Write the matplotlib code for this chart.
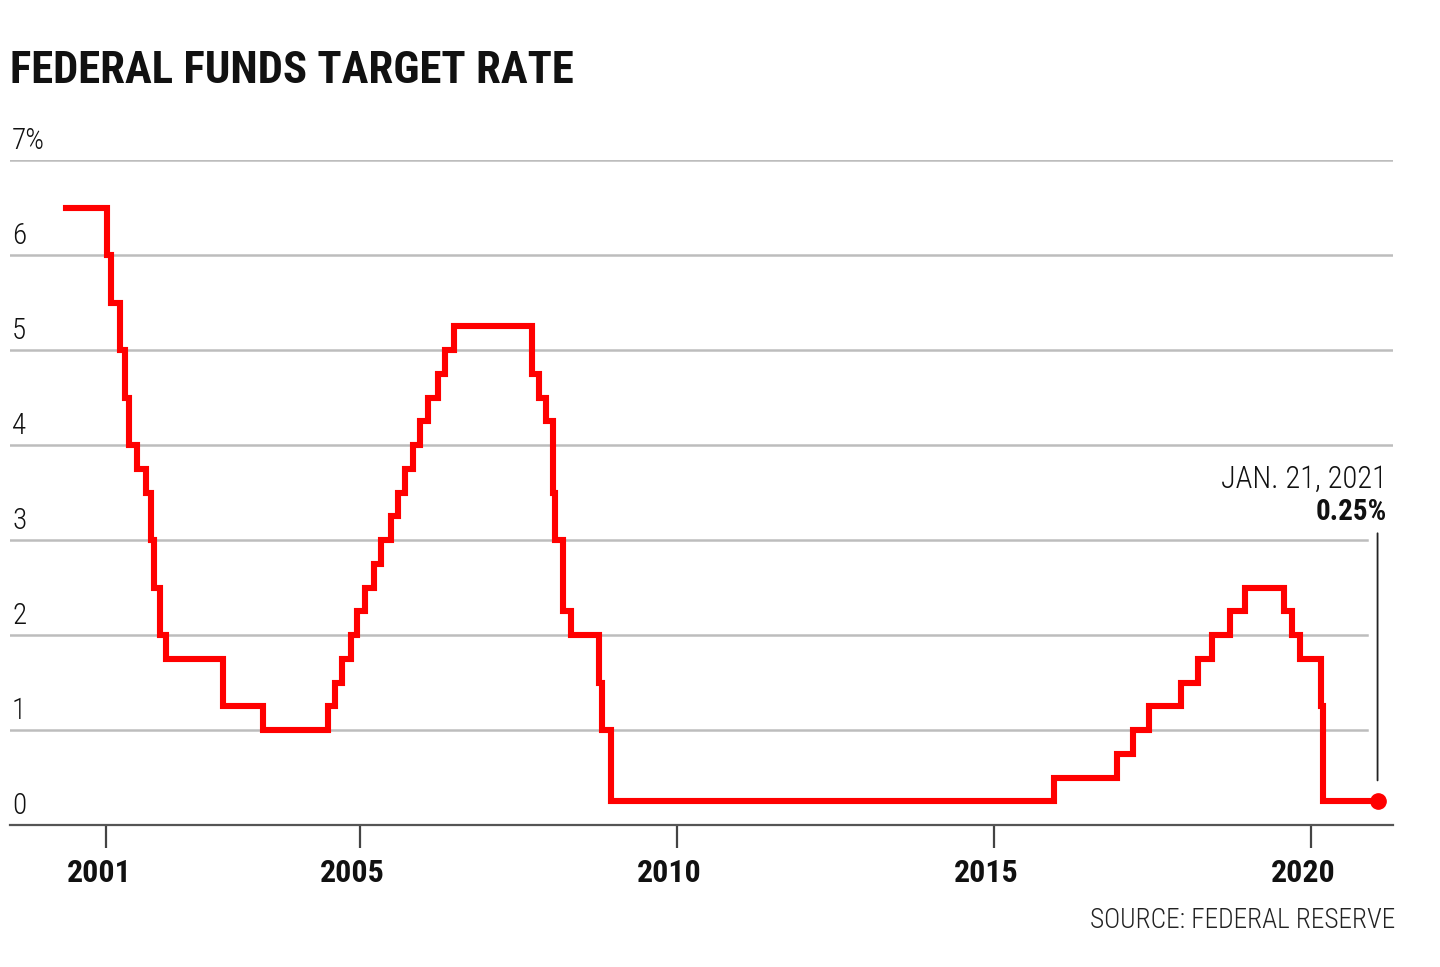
import datetime as dt
import matplotlib
matplotlib.use("Agg")
import matplotlib.pyplot as plt
import matplotlib.transforms as mtransforms

# Federal funds target rate (upper bound), change dates
change_dates = [
    "2000-05-16", "2001-01-03", "2001-01-31", "2001-03-20", "2001-04-18",
    "2001-05-15", "2001-06-27", "2001-08-21", "2001-09-17", "2001-10-02",
    "2001-11-06", "2001-12-11", "2002-11-06", "2003-06-25", "2004-06-30",
    "2004-08-10", "2004-09-21", "2004-11-10", "2004-12-14", "2005-02-02",
    "2005-03-22", "2005-05-03", "2005-06-30", "2005-08-09", "2005-09-20",
    "2005-11-01", "2005-12-13", "2006-01-31", "2006-03-28", "2006-05-10",
    "2006-06-29", "2007-09-18", "2007-10-31", "2007-12-11", "2008-01-22",
    "2008-01-30", "2008-03-18", "2008-04-30", "2008-10-08", "2008-10-29",
    "2008-12-16", "2015-12-16", "2016-12-14", "2017-03-15", "2017-06-14",
    "2017-12-13", "2018-03-21", "2018-06-13", "2018-09-26", "2018-12-19",
    "2019-07-31", "2019-09-18", "2019-10-30", "2020-03-03", "2020-03-15",
    "2021-01-21",
]
rates = [
    6.50, 6.00, 5.50, 5.00, 4.50,
    4.00, 3.75, 3.50, 3.00, 2.50,
    2.00, 1.75, 1.25, 1.00, 1.25,
    1.50, 1.75, 2.00, 2.25, 2.50,
    2.75, 3.00, 3.25, 3.50, 3.75,
    4.00, 4.25, 4.50, 4.75, 5.00,
    5.25, 4.75, 4.50, 4.25, 3.50,
    3.00, 2.25, 2.00, 1.50, 1.00,
    0.25, 0.50, 0.75, 1.00, 1.25,
    1.50, 1.75, 2.00, 2.25, 2.50,
    2.25, 2.00, 1.75, 1.25, 0.25,
    0.25,
]
y_ticks = [0, 1, 2, 3, 4, 5, 6, 7]
y_labels = ["0", "1", "2", "3", "4", "5", "6", "7%"]
x_years = [2001, 2005, 2010, 2015, 2020]

dates = [dt.datetime.strptime(d, "%Y-%m-%d") for d in change_dates]

plt.rcParams["font.family"] = ["Roboto Condensed", "Roboto", "DejaVu Sans"]

RED = "#ff0000"
GRID = "#bdbdbd"

fig = plt.figure(figsize=(14.4, 9.67), dpi=100)
ax = fig.add_axes([10 / 1440, 1 - 825 / 967, 1383 / 1440, 665 / 967])

ax.set_xlim(dt.datetime(1999, 6, 27), dt.datetime(2021, 4, 20))
ax.set_ylim(0, 7)

# gridlines; the lower ones stop short of the callout line
for v in y_ticks[1:]:
    xmax = 1.0 if v >= 4 else (1367 - 10) / 1383
    ax.axhline(v, xmin=0, xmax=xmax, color=GRID, lw=1.8, zorder=1)

ax.step(dates, rates, where="post", color=RED, lw=4.4, zorder=3,
        solid_joinstyle="miter")
ax.plot(dates[-1], rates[-1], "o", color=RED, ms=11, zorder=4)

# callout
ax.annotate("", xy=(dates[-1], 0.44), xytext=(dates[-1], 3.1),
            arrowprops=dict(arrowstyle="-", color="#222222", lw=1.3))
label_x = dt.datetime(2021, 3, 14)
ax.text(label_x, 3.21, "0.25%", ha="right", va="baseline",
        fontsize=21, fontweight="bold", color="#111111")
ax.text(label_x, 3.55, "JAN. 21, 2021", ha="right",
        va="baseline", fontsize=22, fontweight=300, color="#111111")

# y labels sitting above the gridlines
offset = mtransforms.ScaledTranslation(2 / 100, 11 / 100, fig.dpi_scale_trans)
for v, lab in zip(y_ticks, y_labels):
    ax.text(0, v, lab, transform=ax.get_yaxis_transform() + offset,
            ha="left", va="baseline", fontsize=21, fontweight=300,
            color="#111111")

ax.set_yticks([])
ax.set_xticks([dt.datetime(y, 1, 1) for y in x_years])
ax.set_xticklabels([str(y) for y in x_years], fontsize=23, fontweight="bold",
                   color="#111111")
ax.tick_params(axis="x", length=16.5, width=1.6, color="#444444", pad=7)
shift = mtransforms.ScaledTranslation(-7 / 100, 0, fig.dpi_scale_trans)
for lbl in ax.get_xticklabels():
    lbl.set_transform(lbl.get_transform() + shift)

for s in ["top", "right", "left"]:
    ax.spines[s].set_visible(False)
ax.spines["bottom"].set_color("#555555")
ax.spines["bottom"].set_linewidth(1.6)

fig.text(10 / 1440, 1 - 83 / 967, "FEDERAL FUNDS TARGET RATE",
         fontsize=32.2, fontweight="bold", color="#111111", va="baseline")
fig.text(1395 / 1440, 1 - 928 / 967, "SOURCE: FEDERAL RESERVE",
         fontsize=19.7, fontweight=300, color="#222222", ha="right",
         va="baseline")

fig.savefig("out.png", dpi=100)
